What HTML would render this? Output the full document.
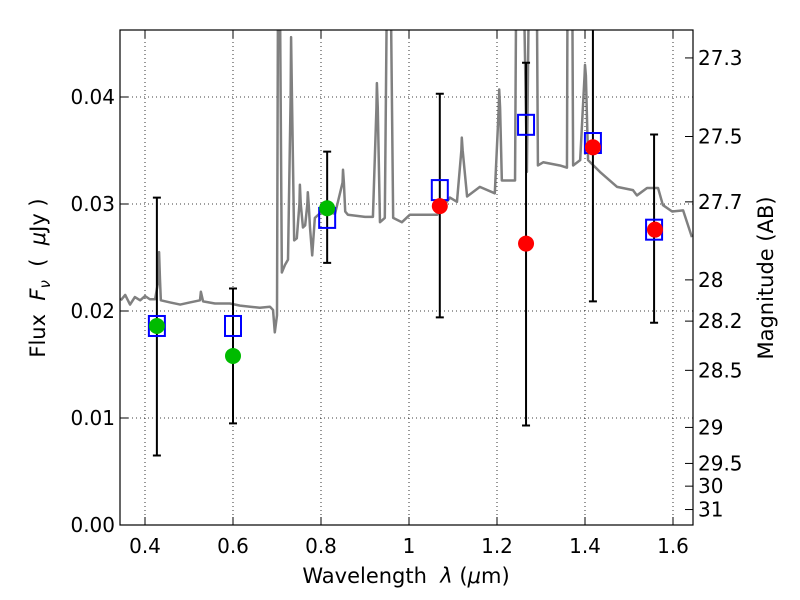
<!DOCTYPE html>
<html><head><meta charset="utf-8"><style>
body{margin:0;background:#fff}
svg{display:block;font-family:"DejaVu Sans","Liberation Sans",sans-serif}
</style></head><body>
<svg id="chart" width="800" height="600" viewBox="0 0 800 600">
<rect width="800" height="600" fill="#fff"/>
<defs><clipPath id="clip"><rect x="120" y="30" width="573" height="495"/></clipPath></defs>
<g id="grid"></g>
<g id="plot" clip-path="url(#clip)"></g>
<rect x="120" y="30" width="573" height="495" fill="none" stroke="#000" stroke-width="1.2"/>
<g id="axes"></g>
<text x="406" y="583" text-anchor="middle" font-size="21">Wavelength&#160;&#160;<tspan font-style="italic">λ</tspan> (<tspan font-style="italic">μ</tspan>m)</text>
<text transform="translate(45,278) rotate(-90)" text-anchor="middle" font-size="21">Flux&#160;&#160;<tspan font-style="italic">F</tspan><tspan font-style="italic" font-size="15" dy="5">ν</tspan><tspan dy="-5">&#160;&#160;(&#160;&#160;</tspan><tspan font-style="italic">μ</tspan>Jy )</text>
<text transform="translate(773,278) rotate(-90)" text-anchor="middle" font-size="21">Magnitude (AB)</text>
</svg>
<script>
const specLam=[.345,.355,.366,.377,.389,.400,.411,.423,.431,.432,.434,.436,.457,.480,.502,.525,.527,.532,.559,.593,.616,.639,.661,.684,.691,.695,.700,.703,.705,.711,.718,.725,.731,.732,.734,.739,.745,.751,.752,.754,.759,.764,.769,.770,.772,.775,.780,.786,.802,.832,.849,.850,.852,.855,.861,.900,.918,.926,.927,.929,.934,.945,.952,.956,.964,.984,1.002,1.064,1.093,1.109,1.119,1.120,1.122,1.132,1.161,1.195,1.204,1.205,1.207,1.211,1.241,1.245,1.257,1.268,1.275,1.289,1.293,1.305,1.343,1.359,1.361,1.370,1.373,1.389,1.399,1.400,1.402,1.407,1.434,1.473,1.509,1.518,1.541,1.566,1.577,1.598,1.623,1.643];
const specFlux=[.0210,.0215,.0206,.0213,.0210,.0214,.0211,.0211,.0230,.0255,.0230,.0210,.0208,.0206,.0208,.0210,.0218,.0209,.0207,.0207,.0205,.0204,.0203,.0204,.0201,.0180,.0196,.06,.06,.0236,.0243,.0248,.040,.0456,.040,.0266,.0268,.0300,.0318,.0300,.0278,.0280,.0300,.0311,.0300,.0278,.0252,.0287,.0293,.0291,.0320,.0332,.0320,.0293,.0290,.0288,.0288,.0390,.0413,.0390,.0283,.0287,.06,.06,.0287,.0283,.0290,.0290,.0306,.0302,.0350,.0362,.0350,.0307,.0316,.0310,.0390,.0407,.0390,.0322,.0322,.06,.06,.0330,.06,.06,.0336,.0339,.0336,.0334,.06,.06,.0336,.0341,.0420,.0430,.0420,.0341,.0330,.0316,.0313,.0308,.0315,.0315,.0299,.0293,.0294,.0269];
const greenLam=[.427,.600,.814];
const greenFlux=[.0186,.0158,.0296];
const redLam=[1.070,1.266,1.418,1.559];
const redFlux=[.0298,.0263,.0353,.0276];
const sqLam=[.427,.600,.814,1.070,1.266,1.418,1.557];
const sqFlux=[.0186,.0186,.0287,.0313,.0374,.0357,.0276];
const errHi=[.0306,.0221,.0349,.0403,.0432,.0500,.0365];
const errLo=[.0065,.0095,.0245,.0194,.0093,.0209,.0189];
const xTicks=[0.4,0.6,0.8,1.0,1.2,1.4,1.6];
const xTickLabels=["0.4","0.6","0.8","1","1.2","1.4","1.6"];
const yTicks=[0,0.01,0.02,0.03,0.04];
const yTickLabels=["0.00","0.01","0.02","0.03","0.04"];
const magTicks=[27.3,27.5,27.7,28,28.2,28.5,29,29.5,30,31];
const magLabels=["27.3","27.5","27.7","28","28.2","28.5","29","29.5","30","31"];

const NS="http://www.w3.org/2000/svg";
const X=v=>145+(v-0.4)*440;
const Y=v=>525-v*10700;
const magToFlux=m=>Math.pow(10,(23.9-m)/2.5);
function mk(tag,attrs,parent){const e=document.createElementNS(NS,tag);for(const k in attrs)e.setAttribute(k,attrs[k]);parent.appendChild(e);return e;}
const grid=document.getElementById('grid'),plot=document.getElementById('plot'),axes=document.getElementById('axes');

xTicks.forEach((t,i)=>{
  const g=mk('line',{x1:X(t),x2:X(t),y1:30,y2:525,stroke:'#000','stroke-width':0.8,'stroke-dasharray':'1,3'},grid);
  
  
  const a=mk('line',{x1:X(t),x2:X(t),y1:525,y2:517,stroke:'#000'},axes);
  
  
  const b=mk('line',{x1:X(t),x2:X(t),y1:30,y2:38,stroke:'#000'},axes);
  
  
  const l=mk('text',{x:X(t),y:553,'text-anchor':'middle','font-size':20},axes);
  l.textContent=xTickLabels[i];
  
  
});
yTicks.forEach((t,i)=>{
  const g=mk('line',{x1:120,x2:693,y1:Y(t),y2:Y(t),stroke:'#000','stroke-width':0.8,'stroke-dasharray':'1,3'},grid);
  
  
  const a=mk('line',{x1:120,x2:128,y1:Y(t),y2:Y(t),stroke:'#000'},axes);
  
  
  const l=mk('text',{x:115,y:Y(t)+7,'text-anchor':'end','font-size':20},axes);
  l.textContent=yTickLabels[i];
  
  
});
magTicks.forEach((m,i)=>{
  const y=Y(magToFlux(m));
  const a=mk('line',{x1:685,x2:693,y1:y,y2:y,stroke:'#000'},axes);
  
  
  const l=mk('text',{x:698,y:y+7,'font-size':20},axes);
  l.textContent=magLabels[i];
  
  
});

const sp=mk('polyline',{points:specLam.map((l,i)=>X(l)+','+Y(specFlux[i])).join(' '),fill:'none',stroke:'#808080','stroke-width':2.5,'stroke-linejoin':'round'},plot);



sqLam.forEach((l,i)=>{
  const x=X(l),e=mk('path',{d:`M${x},${Y(errHi[i])}V${Y(errLo[i])}M${x-4},${Y(errHi[i])}h8M${x-4},${Y(errLo[i])}h8`,stroke:'#000','stroke-width':2,fill:'none'},plot);
  
  
});
sqLam.forEach((l,i)=>{
  const s=mk('rect',{x:X(l)-8,y:Y(sqFlux[i])-10,width:16,height:20,fill:'none',stroke:'#0000ff','stroke-width':2},plot);
  
  
});
greenLam.forEach((l,i)=>{
  const c=mk('circle',{cx:X(l),cy:Y(greenFlux[i]),r:8,fill:'#00bb00'},plot);
  
  
});
redLam.forEach((l,i)=>{
  const c=mk('circle',{cx:X(l),cy:Y(redFlux[i]),r:8,fill:'#ff0000'},plot);
  
  
});
</script>
</body></html>
